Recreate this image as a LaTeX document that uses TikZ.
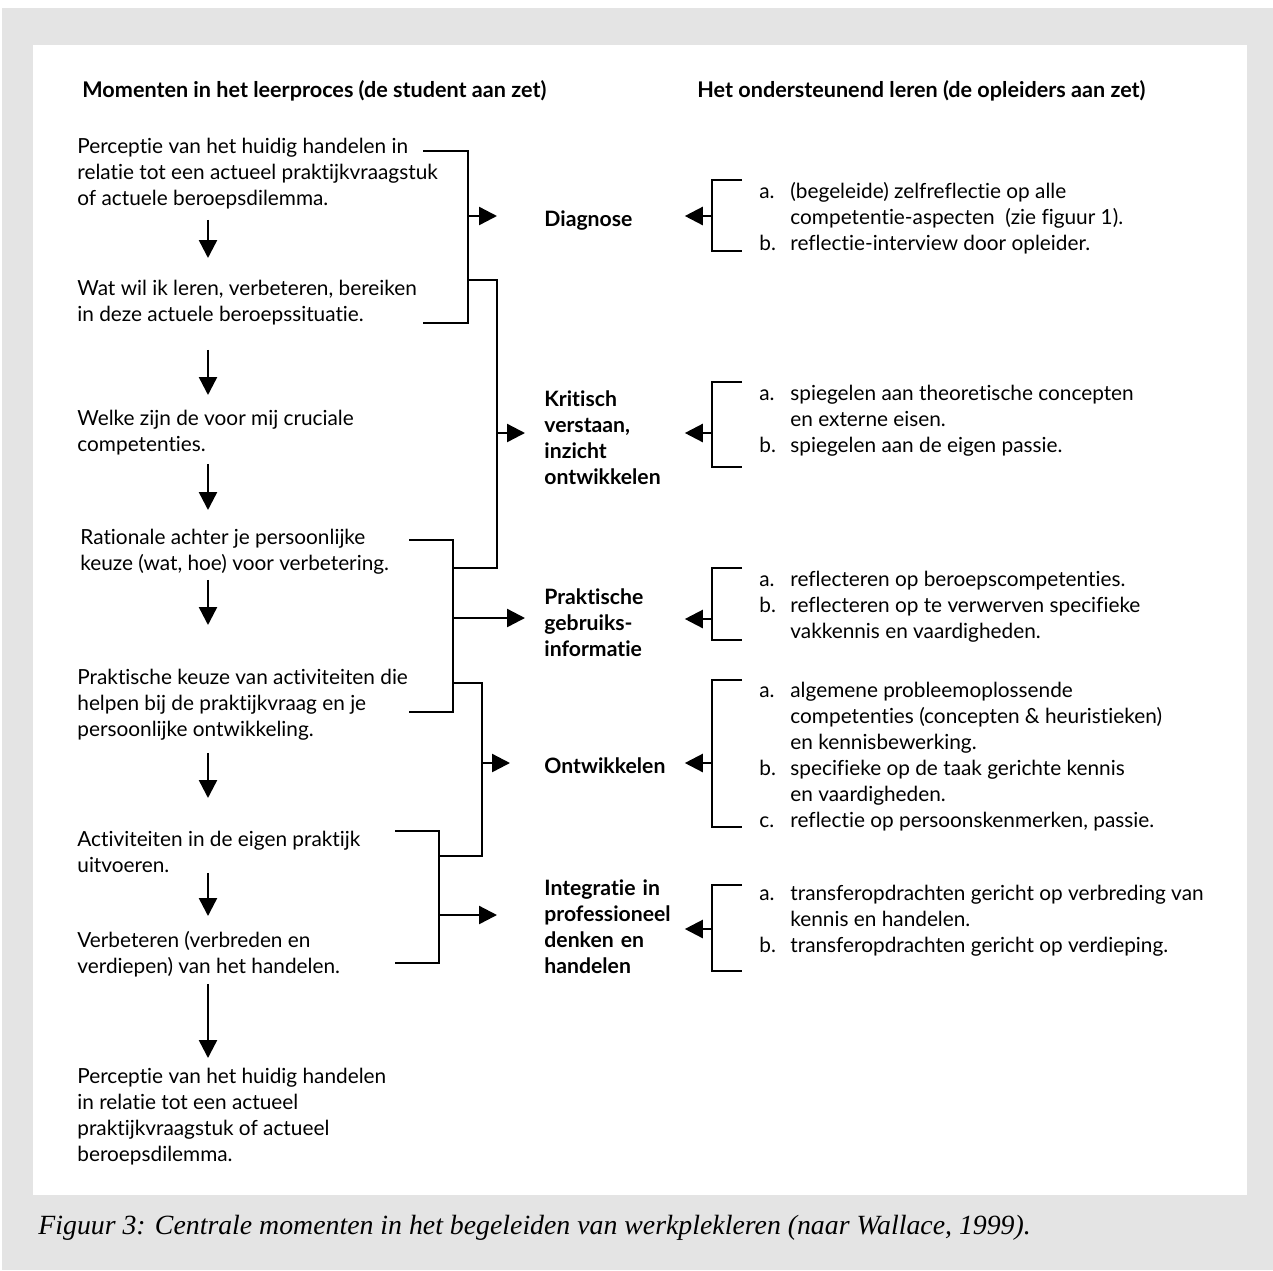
\documentclass[tikz,border=0pt]{standalone}
\usepackage{fontspec}
\setmainfont{Lato}[Ligatures={NoCommon}]
\newfontfamily\capfont{Liberation Serif}
\usetikzlibrary{arrows.meta, positioning}
\definecolor{panel}{RGB}{228,228,228}
\newcommand{\itm}[1]{\makebox[15.5pt][l]{#1}}
\newcommand{\hang}{\hspace*{15.5pt}}

\begin{document}
\begin{tikzpicture}[x=0.5pt, y=-0.5pt]
        \tikzstyle{txt} = [anchor=north west, inner sep=0, yshift=-2.5pt, align=left, font=\fontsize{10.4}{13}\selectfont, execute at begin node=\strut, execute at end node=\strut]
        \tikzstyle{moment} = [txt]
        \tikzstyle{phase} = [txt, font=\fontsize{10.6}{13}\selectfont\bfseries, text width=70pt]
        \tikzstyle{heading} = [txt, font=\fontsize{10.8}{13}\selectfont\bfseries]
        \tikzstyle{support} = [txt]
        \tikzstyle{bracket} = [line width=1.2pt]
        \tikzstyle{flow} = [line width=1.2pt, -{Triangle[length=9pt, width=9pt]}]
        % frame
        \useasboundingbox (0,0) rectangle (1273,1270);
        \fill[panel] (2,8) rectangle (1273,1270);
        \fill[white] (33,45) rectangle (1247,1195);
        % headings
        \node[heading] (hdl) at (82,74) {Momenten in het leerproces (de student aan zet)};
        \node[heading] (hdr) at (697,74) {Het ondersteunend leren (de opleiders aan zet)};
        % left column
        \node[moment] (m1) at (77,133) {Perceptie van het huidig handelen in\\relatie tot een actueel praktijkvraagstuk\\of actuele beroepsdilemma.};
        \node[moment] (m2) at (77,275) {Wat wil ik leren, verbeteren, bereiken\\in deze actuele beroepssituatie.};
        \node[moment] (m3) at (77,405) {Welke zijn de voor mij cruciale\\competenties.};
        \node[moment] (m4) at (80,524) {Rationale achter je persoonlijke\\keuze (wat, hoe) voor verbetering.};
        \node[moment] (m5) at (77,664) {Praktische keuze van activiteiten die\\helpen bij de praktijkvraag en je\\persoonlijke ontwikkeling.};
        \node[moment] (m6) at (77,826) {Activiteiten in de eigen praktijk\\uitvoeren.};
        \node[moment] (m7) at (77,926) {Verbeteren (verbreden en\\verdiepen) van het handelen.};
        \node[moment] (m8) at (77,1063) {Perceptie van het huidig handelen\\in relatie tot een actueel\\praktijkvraagstuk of actueel\\beroepsdilemma.};
        \coordinate (ax) at (208,0);
        \draw[flow, shorten <=3pt, shorten >=11pt] (m1.south -| ax) -- (m2.north -| ax);
        \draw[flow, shorten <=10pt, shorten >=7.5pt] (m2.south -| ax) -- (m3.north -| ax);
        \draw[flow, shorten <=2pt, shorten >=9.5pt] (m3.south -| ax) -- (m4.north -| ax);
        \draw[flow, shorten <=0.5pt, shorten >=22pt] (m4.south -| ax) -- (m5.north -| ax);
        \draw[flow, shorten <=4pt, shorten >=16.5pt] (m5.south -| ax) -- (m6.north -| ax);
        \draw[flow, shorten <=-4pt, shorten >=7.5pt] (m6.south -| ax) -- (m7.north -| ax);
        \draw[flow, shorten <=1pt, shorten >=5pt] (m7.south -| ax) -- (m8.north -| ax);
        % middle column
        \node[phase] (d1) at (544,203) {Diagnose};
        \node[phase] (d2) at (544,383) {Kritisch\\verstaan,\\inzicht\\ontwikkelen};
        \node[phase] (d3) at (544,581) {Praktische\\gebruiks-\\informatie};
        \node[phase] (d4) at (544,750) {Ontwikkelen};
        \node[phase] (d5) at (544,872) {Integratie in\\professioneel\\denken en\\handelen};
        % left brackets
        \coordinate (b1t) at (423,151); \coordinate (b1b) at (423,323); \coordinate (s1) at (468,216);
        \coordinate (k1) at (468,280); \coordinate (k2) at (453,568); \coordinate (s2) at (497,433);
        \coordinate (b2t) at (409,540); \coordinate (b2b) at (409,712); \coordinate (s3) at (453,618);
        \coordinate (k3) at (453,683); \coordinate (k4) at (439,856); \coordinate (s4) at (482,763);
        \coordinate (b3t) at (395,831); \coordinate (b3b) at (395,963); \coordinate (s5) at (439,915);
        \draw[bracket] (b1t) -| (s1) |- (b1b);
        \draw[bracket] (k1) -| (s2) |- (k2);
        \draw[bracket] (b2t) -| (s3) |- (b2b);
        \draw[bracket] (k3) -| (s4) |- (k4);
        \draw[bracket] (b3t) -| (s5) |- (b3b);
        \draw[flow, shorten >=23.5pt] (s1) -- (s1 -| d1.west);
        \draw[flow, shorten >=9.5pt] (s2) -- (s2 -| d2.west);
        \draw[flow, shorten >=9.5pt] (s3) -- (s3 -| d3.west);
        \draw[flow, shorten >=17pt] (s4) -- (s4 -| d4.west);
        \draw[flow, shorten >=23.5pt] (s5) -- (s5 -| d5.west);
        % right column
        \node[support] (h1) at (759,177) {\itm{a.}(begeleide) zelfreflectie op alle\\\hang competentie-aspecten\ \ (zie figuur 1).\\\itm{b.}reflectie-interview door opleider.};
        \node[support] (h2) at (759,380) {\itm{a.}spiegelen aan theoretische concepten\\\hang en externe eisen.\\\itm{b.}spiegelen aan de eigen passie.};
        \node[support] (h3) at (759,566) {\itm{a.}reflecteren op beroepscompetenties.\\\itm{b.}reflecteren op te verwerven specifieke\\\hang vakkennis en vaardigheden.};
        \node[support] (h4) at (759,677) {\itm{a.}algemene probleemoplossende\\\hang competenties (concepten \& heuristieken)\\\hang en kennisbewerking.\\\itm{b.}specifieke op de taak gerichte kennis\\\hang en vaardigheden.\\\itm{c.}reflectie op persoonskenmerken, passie.};
        \node[support] (h5) at (759,880) {\itm{a.}transferopdrachten gericht op verbreding van\\\hang kennis en handelen.\\\itm{b.}transferopdrachten gericht op verdieping.};
        % right brackets
        \coordinate (r1) at (712,216); \coordinate (r1t) at (742,180); \coordinate (r1b) at (742,251);
        \coordinate (r2) at (712,433); \coordinate (r2t) at (742,382); \coordinate (r2b) at (742,467);
        \coordinate (r3) at (712,619); \coordinate (r3t) at (742,568); \coordinate (r3b) at (742,640);
        \coordinate (r4) at (712,763); \coordinate (r4t) at (742,680); \coordinate (r4b) at (742,827);
        \coordinate (r5) at (712,929); \coordinate (r5t) at (742,885); \coordinate (r5b) at (742,971);
        \draw[bracket] (r1t) -| (r1) |- (r1b);
        \draw[bracket] (r2t) -| (r2) |- (r2b);
        \draw[bracket] (r3t) -| (r3) |- (r3b);
        \draw[bracket] (r4t) -| (r4) |- (r4b);
        \draw[bracket] (r5t) -| (r5) |- (r5b);
        \draw[flow] (r1) -- (r1 -| d1.east);
        \draw[flow] (r2) -- (r2 -| d2.east);
        \draw[flow] (r3) -- (r3 -| d3.east);
        \draw[flow] (r4) -- (r4 -| d4.east);
        \draw[flow] (r5) -- (r5 -| d5.east);
        % caption
        \node[anchor=west, inner sep=0, font=\capfont\itshape\fontsize{13.9}{16}\selectfont] (cap) at (38,1228) {Figuur 3: Centrale momenten in het begeleiden van werkplekleren (naar Wallace, 1999).};
      \end{tikzpicture}
\end{document}
